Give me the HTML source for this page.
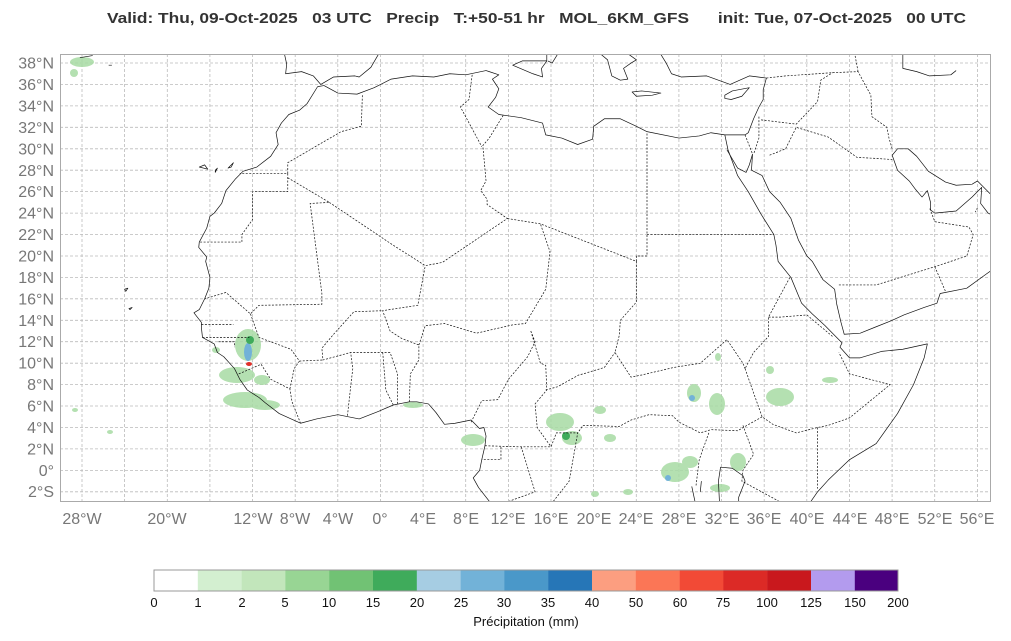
<!DOCTYPE html>
<html><head><meta charset="utf-8"><style>
html,body{margin:0;padding:0;background:#fff;}
svg{display:block;font-family:"Liberation Sans",sans-serif;}
.t{white-space:pre;}
</style></head><body>
<svg width="1011" height="641" viewBox="0 0 1011 641">
<text class="t" xml:space="preserve" x="107" y="23" font-size="15" font-weight="bold" fill="#333" textLength="859" lengthAdjust="spacingAndGlyphs">Valid: Thu, 09-Oct-2025   03 UTC   Precip   T:+50-51 hr   MOL_6KM_GFS      init: Tue, 07-Oct-2025   00 UTC</text>
<defs><clipPath id="c"><rect x="60" y="54" width="931" height="448"/></clipPath></defs>
<g clip-path="url(#c)">
<g stroke="#bbb" stroke-width="0.8" stroke-dasharray="3,2">
<path d="M82 54V502M124.6 54V502M167.3 54V502M209.9 54V502M252.5 54V502M295.2 54V502M337.8 54V502M380.5 54V502M423.1 54V502M465.7 54V502M508.4 54V502M551 54V502M593.6 54V502M636.3 54V502M678.9 54V502M721.6 54V502M764.2 54V502M806.8 54V502M849.5 54V502M892.1 54V502M934.7 54V502M977.4 54V502"/>
<path d="M60 63H991M60 84.4H991M60 105.9H991M60 127.3H991M60 148.8H991M60 170.2H991M60 191.6H991M60 213.1H991M60 234.5H991M60 256H991M60 277.4H991M60 298.8H991M60 320.3H991M60 341.7H991M60 363.2H991M60 384.6H991M60 406H991M60 427.5H991M60 448.9H991M60 470.4H991M60 491.8H991"/>
</g>
<g fill="#a8dba4" opacity="0.85">
<ellipse cx="82" cy="62" rx="12" ry="5"/><ellipse cx="74" cy="73" rx="4" ry="4"/>
<ellipse cx="248" cy="345" rx="13" ry="16"/><ellipse cx="237" cy="375" rx="18" ry="8"/>
<ellipse cx="245" cy="400" rx="22" ry="8"/><ellipse cx="265" cy="405" rx="15" ry="5"/>
<ellipse cx="262" cy="380" rx="8" ry="5"/><ellipse cx="216" cy="350" rx="4" ry="3"/>
<ellipse cx="413" cy="405" rx="10" ry="3"/><ellipse cx="473" cy="440" rx="12" ry="6"/>
<ellipse cx="560" cy="422" rx="14" ry="9"/><ellipse cx="572" cy="438" rx="10" ry="7"/>
<ellipse cx="600" cy="410" rx="6" ry="4"/><ellipse cx="610" cy="438" rx="6" ry="4"/>
<ellipse cx="694" cy="393" rx="7" ry="9"/><ellipse cx="717" cy="404" rx="8" ry="11"/>
<ellipse cx="718" cy="357" rx="3" ry="4"/><ellipse cx="675" cy="472" rx="14" ry="10"/>
<ellipse cx="690" cy="462" rx="8" ry="6"/><ellipse cx="738" cy="462" rx="8" ry="9"/>
<ellipse cx="720" cy="488" rx="10" ry="4"/><ellipse cx="780" cy="397" rx="14" ry="9"/>
<ellipse cx="770" cy="370" rx="4" ry="4"/><ellipse cx="830" cy="380" rx="8" ry="3"/>
<ellipse cx="595" cy="494" rx="4" ry="3"/><ellipse cx="628" cy="492" rx="5" ry="3"/>
<ellipse cx="75" cy="410" rx="3" ry="2"/><ellipse cx="110" cy="432" rx="3" ry="2"/>
</g>
<g fill="#72b2d8"><ellipse cx="248" cy="352" rx="4" ry="9"/><ellipse cx="668" cy="478" rx="3" ry="3"/><ellipse cx="692" cy="398" rx="3" ry="3"/></g>
<g fill="#3fab5b"><ellipse cx="566" cy="436" rx="4" ry="4"/><ellipse cx="250" cy="340" rx="4" ry="4"/></g>
<ellipse cx="249" cy="364" rx="3" ry="2" fill="#e0302a"/>
<g transform="translate(380.5,470.4) scale(10.66,-10.72)" fill="none" stroke="#111" stroke-width="0.7" stroke-linejoin="round">
<path vector-effect="non-scaling-stroke" d="M-9,38.8 L-8.8,37.9 L-8.9,37 L-7.4,37.2 L-6.3,36.8 L-5.6,36 L-4.4,36.7 L-2.4,36.8 L-2,36.7 L-0.9,37.6 L-0.2,38.8"/>
<path vector-effect="non-scaling-stroke" d="M-5.9,35.8 L-6.9,34.2 L-7.6,33.6 L-8.6,33.2 L-9.3,32.4 L-9.8,31.5 L-9.6,30.4 L-10.3,29.3 L-11.6,28.3 L-12.9,27.9 L-13.6,27.2 L-14.5,26.1 L-14.9,24.9 L-15.6,24 L-16,23.7 L-16.3,22.6 L-17,21.3 L-17.05,20.8 L-16.3,19.9 L-16.4,19.5 L-16,18 L-16.1,17 L-16.5,16 L-17,15 L-17.5,14.7 L-16.8,13.8 L-16.8,13.3 L-16.7,12.4 L-15.6,11.8 L-15.3,11 L-14.7,10.6 L-13.7,9.5 L-13.2,8.5 L-12.5,7.5 L-11.4,6.8 L-10.8,6.3 L-9.5,5.3 L-7.5,4.4 L-6,4.8 L-4,5.2 L-2,4.8 L-0.2,5.5 L1.2,6.1 L2.7,6.4 L3.4,6.4 L4.5,6.2 L5.2,5.4 L6,4.3 L7,4.4 L8.5,4.7 L9.3,3.9 L9.7,4 L9.9,3.2 L9.8,2.3 L9.5,1 L9.3,0 L8.7,-0.7 L9.2,-1.6 L10.3,-3"/>
<path vector-effect="non-scaling-stroke" d="M40.3,-3 L41,-2 L42,-0.9 L44,1 L46.5,2.5 L48.5,5.3 L50,8 L51,10.5 L51.3,11.8 L49,11.3 L47,11.1 L45,10.5 L44,10.5 L43.1,11.5 L43.3,11.9 L42.6,12.6 L41.7,13.5 L40.5,14.6 L39.5,15.6 L38.5,18 L37.3,19.5 L37.1,21 L36.9,22 L35.7,23.9 L34.5,26 L33.5,27.5 L32.6,29.9 L32.3,31.3 L31,31.5 L29.9,31.2 L28,31 L25,31.6 L24,32.1 L22.5,32.8 L21,32.8 L20,32.1 L19.9,30.9 L18.5,30.4 L17,31 L15.5,31.3 L15.2,32.4 L13.2,32.9 L11.1,33.2 L10.1,33.9 L10.8,34.8 L11.1,35.6 L10.5,36.5 L11.1,36.9 L10.2,37.2 L9.9,37.3 L8,36.9 L6.5,37 L5,36.7 L3,36.8 L1,36.5 L-0.6,35.7 L-2.2,35.1 L-4,35.2 L-5.3,35.9 L-5.9,35.8"/>
<path vector-effect="non-scaling-stroke" d="M32.3,31.3 L34.2,31.3 L34.5,31.5 L35,32.8 L35.5,33.9 L35.9,34.6 L35.9,35.5 L36.2,36.6 L34.6,36.8 L32.8,36 L30.6,36.8 L28.2,36.7 L27.3,37 L26.8,38 L26.3,38.8"/>
<path vector-effect="non-scaling-stroke" d="M32.5,29.9 L33.5,28.2 L34.3,27.8 L34.6,28.5 L34.9,29.5 L34.8,28 L35.8,27.5 L36.5,26 L37.5,25 L38.5,23.5 L39.2,21.5 L40,20 L40.5,19.5 L41.5,17.8 L42.6,16.9 L42.8,15.5 L43.2,13.8 L43.5,12.7 L45,12.8 L46.5,13.4 L48,14 L49.1,14.5 L51,15.2 L52.2,15.6 L52.5,16.5 L55,17 L56.8,18.3 L57.8,19"/>
<path vector-effect="non-scaling-stroke" d="M58,23.5 L57,24 L56.3,24.9 L56.4,26.4 L56,26 L55.5,25.5 L54,24.2 L52,24 L51.6,24.3 L51.6,25 L51.3,26.1 L50.8,25.5 L50.2,26.2 L49.6,27 L48.5,28 L48,29.4 L48.5,30 L49.5,30 L50.3,29.3 L51.4,27.9 L53,26.9 L54,26.6 L55.5,26.7 L56,27 L57.3,25.7 L58,25.6"/>
<path vector-effect="non-scaling-stroke" d="M21.7,36.8 L22.5,36.4 L23.2,36.5 L22.8,37.5 L23.5,38 L24,38.3 L23.3,38.8 M20.7,38.8 L21.3,38.3 L21.7,36.8"/>
<path vector-effect="non-scaling-stroke" d="M15.6,38.8 L15.6,38.2 L15.1,37.5 L15.2,36.7 L14.3,37 L12.4,37.8 L13.3,38.2 L15.6,38.2 M16.6,38.8 L16.1,38 L15.7,38.2"/>
<path vector-effect="non-scaling-stroke" d="M23.6,35.3 L24.5,35.4 L26.3,35.2 L25.5,35 L24,34.9 Z M32.3,35 L33,35.4 L34.6,35.7 L33.9,34.9 L32.9,34.6 L32.3,34.7 Z"/>
<path vector-effect="non-scaling-stroke" d="M49,38.8 L49,37.5 L50.3,37.2 L51.5,36.8 L53.5,36.9 L54,37.3"/>
<path vector-effect="non-scaling-stroke" d="M31.8,-3 L31.7,-1 L31.9,0.3 L33,0.2 L34,-0.5 L34.2,-1 L33.6,-2.5 L33.6,-3"/>
<path vector-effect="non-scaling-stroke" d="M-17,28.3 L-16.5,28.5 L-16.2,28.1 Z M-15.5,28 L-15.3,28.2 L-15.5,27.8 Z M-14,28.3 L-13.8,28.7 L-14.3,28.2 Z M-24,16.9 L-23.7,17 L-23.9,16.7 Z M-23.5,15 L-23.3,15.2 L-23.6,15.1 Z M-25.2,37.8 L-25.5,37.8 M-27,38.7 L-28.2,38.5"/>
<path vector-effect="non-scaling-stroke" d="M11.5,-3 L11,-3.9 M30.1,-1 L30,-2 M29.5,-2.9 L29.2,-1.5"/>
</g>
<g transform="translate(380.5,470.4) scale(10.66,-10.72)" fill="none" stroke="#111" stroke-width="0.7" stroke-dasharray="2,1.5">
<path vector-effect="non-scaling-stroke" d="M-1.7,35 L-1.8,32.1 L-3.7,31.6 L-8.7,28.7 L-8.7,27.7 L-13.2,27.7 M-8.7,27.7 L-8.7,26 L-12,26 L-12,23.4 L-13,22 L-13,21.3 L-17,21.3 M-8.7,27.3 L-4.8,25 L-6.6,24.9 L-5.5,16.5 L-5.5,15.5 L-11.4,15.4 L-12.2,14.6 L-14.5,16.6 L-16.5,16 M-4.8,25 L1.2,21 L4.2,19.1 L5.8,19.4 L11.9,23.5 L10,24.8 L10,25.3 L9.4,26.1 L9.9,27 L9.6,30.3 L10.2,31 L11.5,33.1 M8.6,36.9 L8.3,34.6 L7.5,33.9 L9.5,30.2 M11.9,23.5 L15,23 L24,19.5 L24,20 L25,20 L25,22 L25,31.6 M25,22 L36.9,22 M24,19.5 L24,15.7 L22.5,14 L22.4,12.6 L22,11 L23.5,8.7 L24.5,8.9 L27.5,9.6 L30,10 L32.5,12.2 L34,10 L34.2,9.5 M38.4,18 L36.4,14.3 L36.4,12.5 L35,11 L34.2,9.5 M36.4,14.3 L37.5,14.3 L40,14.5 L42.4,12.5 M34.2,9.5 L34.9,7.5 L35.8,5 L36.8,4.3 L39,3.5 L41,4 L42,4.2 L44,4.9 L47.8,8 L44,9 L43,11 M41,4 L41,-1.7 M35.8,5 L33.5,3.7 L31,3.8 L30,3.5 L28,4.5 L27.4,5.1 L25.2,5.2 L23.5,4.7 L22.4,4.1 L19,4.2 L18.5,3.5 M30.8,3.5 L29.9,1 L29.6,-1.4 M34,4.2 L35,1.5 L34,0 L33.9,-1 L37.6,-3 M3.6,11.7 L4.2,13.5 L6,13.7 L9,12.8 L12.5,13.6 L13.6,13.7 L15.5,16.9 L15.9,20.4 L15,23 M14.1,13 L15,10 L15.5,9.8 L15.6,7.5 L14.5,6.2 L14.7,4 L16,2.2 M15.5,7.5 L16.6,7.8 L18.6,8.9 L19,9 L21,9.6 L22,11 M8.5,4.5 L9.5,6.5 L11,6.6 L12,8.5 L13.8,10.6 L14.5,12 L14.1,13 M2.7,6.4 L2.8,9 L3.6,10.3 L3.6,11.7 L2,12.3 L0.9,13 L0.2,14.9 L3.5,15.4 L4.2,19.1 M1.6,6.2 L1.6,9 L0.9,11 M1.2,6.1 L0.5,7.5 L0.2,11.1 M-3.1,5.1 L-2.8,7.8 L-2.6,9.5 L-2.8,11 M0.9,11 L-2.8,11 L-5.4,10.3 L-5.5,11.4 L-4.4,12.7 L-2.5,14.8 L0.2,14.9 M-12.2,14.6 L-11.4,12.4 L-8.4,11.3 L-7.6,10.2 L-5.4,10.3 M-16.7,12.4 L-12.3,12.4 M-16.8,13.6 L-13.8,13.6 M-13.3,9 L-11.2,9.9 L-10.3,8.5 L-8.5,7.6 L-8.3,6.4 L-7.5,4.4 M-8.5,7.6 L-8.1,9.5 L-7.6,10.2 M-15.2,12 L-13.7,12 L-13.7,11.5 M9.8,2.3 L13,2.2 L16,2.2 L16.5,3.5 L18.5,3.5 L17.7,-1 L16.2,-2.9 M11.3,2.2 L11.3,1 L9.5,1 M13.2,2.2 L14.5,-2 L12,-2.9 M43,17.3 L46.5,17.3 L52,19 L55,20 L55.6,22 L55.2,22.7 L52,23.2 L51.5,24.5 M52,19 L53,16.7 M36.5,29.4 L38,30 L39,32 L42,31.1 L44.7,29.2 L46.5,29.1 L48,29 M35.7,32.7 L39,32.3 L41,34.4 L41.3,36.4 L42.4,37.1 M36.2,36.6 L38,36.8 L42.4,37.1 L44.8,37.2 L45.5,35.9 L46,35 L46.1,33 L47.5,32 L47.7,31 L48,30 M44.8,37.2 L44.5,38.8 M34.2,31.3 L34.9,29.5 M35.5,33 L35.5,31 L35,29.5 M56,24.5 L55.8,24.1"/>
</g>
</g>
<rect x="60.5" y="54.5" width="930" height="447" fill="none" stroke="#aaa" stroke-width="1"/>
<g font-size="16" fill="#777" text-anchor="end">
<text x="54" y="68.5">38°N</text><text x="54" y="90">36°N</text><text x="54" y="111.5">34°N</text><text x="54" y="133">32°N</text><text x="54" y="154.5">30°N</text><text x="54" y="176">28°N</text><text x="54" y="197">26°N</text><text x="54" y="218.5">24°N</text><text x="54" y="240">22°N</text><text x="54" y="261.5">20°N</text><text x="54" y="283">18°N</text><text x="54" y="304.5">16°N</text><text x="54" y="326">14°N</text><text x="54" y="347">12°N</text><text x="54" y="368.5">10°N</text><text x="54" y="390">8°N</text><text x="54" y="411.5">6°N</text><text x="54" y="433">4°N</text><text x="54" y="454.5">2°N</text><text x="54" y="476">0°</text><text x="54" y="497">2°S</text>
</g>
<g font-size="16" fill="#777" text-anchor="middle">
<text x="82" y="524">28°W</text><text x="167" y="524">20°W</text><text x="253" y="524">12°W</text><text x="295" y="524">8°W</text><text x="338" y="524">4°W</text><text x="380" y="524">0°</text><text x="423" y="524">4°E</text><text x="466" y="524">8°E</text><text x="508" y="524">12°E</text><text x="551" y="524">16°E</text><text x="594" y="524">20°E</text><text x="636" y="524">24°E</text><text x="679" y="524">28°E</text><text x="722" y="524">32°E</text><text x="764" y="524">36°E</text><text x="807" y="524">40°E</text><text x="850" y="524">44°E</text><text x="892" y="524">48°E</text><text x="935" y="524">52°E</text><text x="977" y="524">56°E</text>
</g>
<g>
<rect x="154" y="570" width="44" height="21" fill="#ffffff"/>
<rect x="197.8" y="570" width="44" height="21" fill="#d3efd0"/>
<rect x="241.6" y="570" width="44" height="21" fill="#c2e6bb"/>
<rect x="285.4" y="570" width="44" height="21" fill="#98d594"/>
<rect x="329.2" y="570" width="44" height="21" fill="#71c274"/>
<rect x="373" y="570" width="44" height="21" fill="#3fab5b"/>
<rect x="416.8" y="570" width="44" height="21" fill="#a6cde3"/>
<rect x="460.6" y="570" width="44" height="21" fill="#72b2d8"/>
<rect x="504.4" y="570" width="44" height="21" fill="#4a98c9"/>
<rect x="548.2" y="570" width="44" height="21" fill="#2676b7"/>
<rect x="592" y="570" width="44" height="21" fill="#fc9e80"/>
<rect x="635.8" y="570" width="44" height="21" fill="#fb7656"/>
<rect x="679.6" y="570" width="44" height="21" fill="#f24a36"/>
<rect x="723.4" y="570" width="44" height="21" fill="#dc2a26"/>
<rect x="767.2" y="570" width="44" height="21" fill="#c9181d"/>
<rect x="811" y="570" width="44" height="21" fill="#b39bee"/>
<rect x="854.8" y="570" width="43.2" height="21" fill="#4a007f"/>
<rect x="154" y="570" width="744" height="21" fill="none" stroke="#999" stroke-width="1"/>
</g>
<g font-size="13" fill="#111" text-anchor="middle">
<text x="154" y="607">0</text><text x="198" y="607">1</text><text x="242" y="607">2</text><text x="285" y="607">5</text><text x="329" y="607">10</text><text x="373" y="607">15</text><text x="417" y="607">20</text><text x="461" y="607">25</text><text x="504" y="607">30</text><text x="548" y="607">35</text><text x="592" y="607">40</text><text x="636" y="607">50</text><text x="680" y="607">60</text><text x="723" y="607">75</text><text x="767" y="607">100</text><text x="811" y="607">125</text><text x="855" y="607">150</text><text x="898" y="607">200</text>
<text x="526" y="626">Précipitation (mm)</text>
</g>
</svg>
</body></html>
